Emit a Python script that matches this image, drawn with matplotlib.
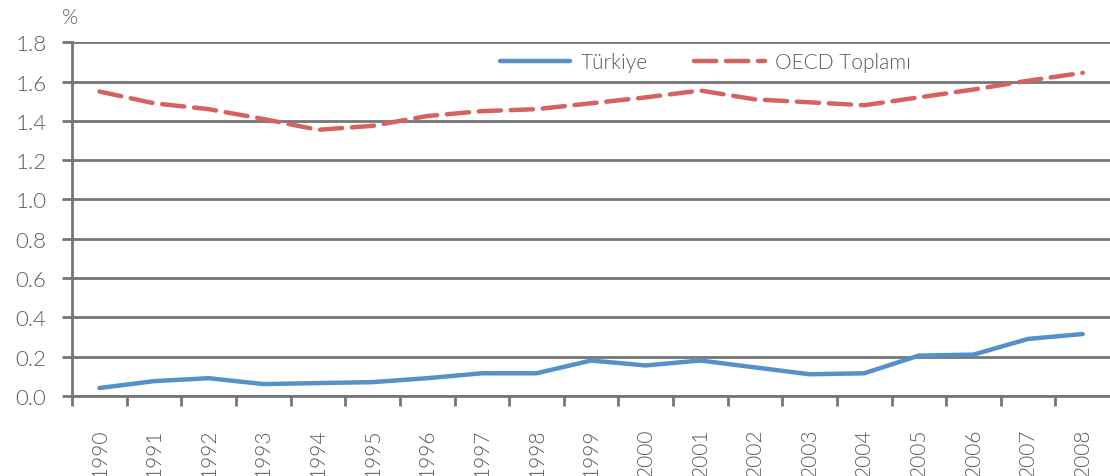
import matplotlib.pyplot as plt

# datos
anios = [str(a) for a in range(1990, 2009)]
turkiye = [0.04, 0.075, 0.09, 0.06, 0.065, 0.07, 0.09, 0.115, 0.115, 0.18,
           0.155, 0.18, 0.145, 0.11, 0.115, 0.205, 0.21, 0.29, 0.315]
oecd = [1.55, 1.49, 1.46, 1.41, 1.355, 1.375, 1.425, 1.45, 1.46, 1.49,
        1.52, 1.555, 1.51, 1.495, 1.48, 1.52, 1.56, 1.605, 1.645]
y_ticks = [0.0, 0.2, 0.4, 0.6, 0.8, 1.0, 1.2, 1.4, 1.6, 1.8]

gris = '#767676'
texto = '#595959'
plt.rcParams['font.family'] = ['Lato', 'DejaVu Sans']
plt.rcParams['font.weight'] = 300

fig = plt.figure(figsize=(11.1, 4.77), dpi=100)
ax = fig.add_axes([0.065, 0.168, 0.935, 0.741])

x = list(range(len(anios)))
ax.plot(x, turkiye, color='#5690C9', lw=3.2, label='Türkiye', solid_capstyle='round')
ax.plot(x, oecd, color='#D5625E', lw=3.2, label='OECD Toplamı',
        dashes=(5, 2.2), dash_capstyle='round')

ax.set_xlim(-0.5, len(anios) - 0.5)
ax.set_ylim(0, 1.8)
ax.set_yticks(y_ticks)
ax.set_yticklabels([f'{v:.1f}' for v in y_ticks])
ax.grid(axis='y', color=gris, lw=2)
ax.set_axisbelow(True)

# ticks en los limites de categoria, etiquetas en el centro
ax.set_xticks([i - 0.5 for i in range(len(anios))])
ax.set_xticklabels([])
ax.set_xticks(x, minor=True)
ax.set_xticklabels(anios, minor=True, rotation=90, fontsize=15, color=texto)
ax.tick_params(axis='x', which='major', length=7.5, width=2, color=gris)
ax.tick_params(axis='x', which='minor', length=0, pad=23)
ax.tick_params(axis='y', length=7.5, width=2, color=gris, labelsize=16,
               labelcolor=texto, pad=11)

for lado in ['top', 'right']:
    ax.spines[lado].set_visible(False)
ax.spines['left'].set_color(gris)
ax.spines['left'].set_linewidth(2)
ax.spines['bottom'].set_color(gris)
ax.spines['bottom'].set_linewidth(2)

ax.text(-0.002, 1.045, '%', transform=ax.transAxes, fontsize=15, color=texto,
        ha='center', va='bottom')

leg = ax.legend(loc='center', bbox_to_anchor=(0.61, 0.945), ncol=2, frameon=False,
                fontsize=15, handlelength=3.4, columnspacing=2.2, handletextpad=0.5)
for t in leg.get_texts():
    t.set_color(texto)

fig.savefig('out.png', dpi=100)
